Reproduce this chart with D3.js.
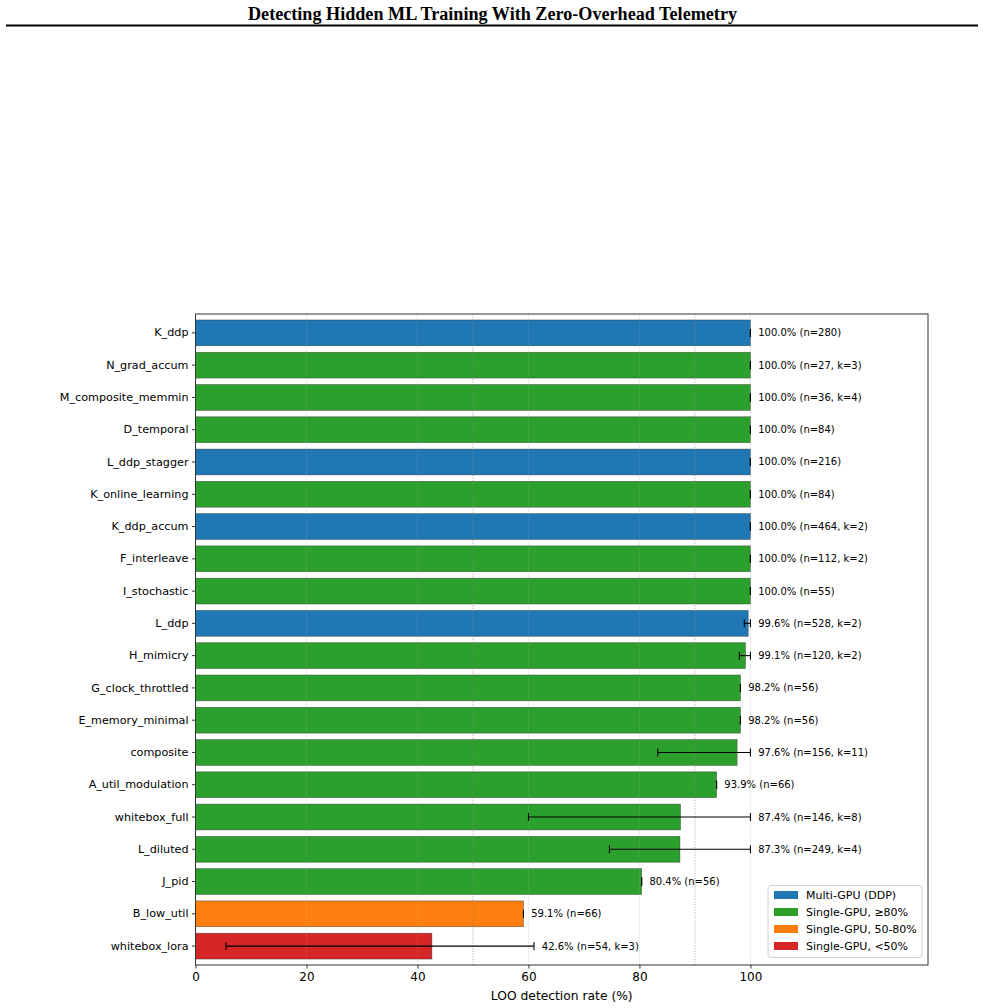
<!DOCTYPE html>
<html>
<head>
<meta charset="utf-8">
<script src="https://cdn.jsdelivr.net/npm/d3@7"></script>
<style>
  html, body { margin: 0; padding: 0; background: #fff; }
  svg { display: block; }
</style>
</head>
<body>
<svg id="chart" width="985" height="1008"></svg>
<script>
// ---- data ----
const categories = ["K_ddp","N_grad_accum","M_composite_memmin","D_temporal","L_ddp_stagger",
  "K_online_learning","K_ddp_accum","F_interleave","I_stochastic","L_ddp","H_mimicry",
  "G_clock_throttled","E_memory_minimal","composite","A_util_modulation","whitebox_full",
  "L_diluted","J_pid","B_low_util","whitebox_lora"];
const rates = [100,100,100,100,100,100,100,100,100,99.6,99.1,98.2,98.2,97.6,93.9,87.4,87.3,80.4,59.1,42.6];
const errLow = [100,100,100,100,100,100,100,100,100,98.9,98.0,98.2,98.2,83.3,93.9,60.0,74.6,80.4,59.1,5.5];
const errHigh = [100,100,100,100,100,100,100,100,100,100,100,98.2,98.2,100,93.9,100,100,80.4,59.1,61.0];
const groups = ["ddp","s80","s80","s80","ddp","s80","ddp","s80","s80","ddp","s80","s80","s80","s80","s80","s80","s80","s80","s50","s0"];
const labels = ["100.0% (n=280)","100.0% (n=27, k=3)","100.0% (n=36, k=4)","100.0% (n=84)","100.0% (n=216)",
  "100.0% (n=84)","100.0% (n=464, k=2)","100.0% (n=112, k=2)","100.0% (n=55)","99.6% (n=528, k=2)",
  "99.1% (n=120, k=2)","98.2% (n=56)","98.2% (n=56)","97.6% (n=156, k=11)","93.9% (n=66)",
  "87.4% (n=146, k=8)","87.3% (n=249, k=4)","80.4% (n=56)","59.1% (n=66)","42.6% (n=54, k=3)"];
const groupKeys = ["ddp","s80","s50","s0"];
const groupNames = ["Multi-GPU (DDP)","Single-GPU, \u226580%","Single-GPU, 50-80%","Single-GPU, <50%"];
const groupColors = ["#1f77b4","#2ca02c","#ff7f0e","#d62728"];
const xTicks = [0,20,40,60,80,100];
const refLines = [50,90];
const title = "Detecting Hidden ML Training With Zero-Overhead Telemetry";
const xLabel = "LOO detection rate (%)";

// ---- layout ----
const svg = d3.select("#chart");
const L = 195.5, R = 928, T = 314, B = 965;
const font = "'DejaVu Sans', sans-serif";

const x = d3.scaleLinear().domain([0,132]).range([L,R]);
const y = d3.scaleBand().domain(categories).range([T,B]).paddingInner(0.2).paddingOuter(0.185);
const color = d3.scaleOrdinal().domain(groupKeys).range(groupColors);

const rows = categories.map((c,i)=>({c, v:rates[i], lo:errLow[i], hi:errHigh[i], g:groups[i], lab:labels[i]}));

// title
svg.append("text").attr("x",492.5).attr("y",20).attr("text-anchor","middle")
  .attr("font-family","'Liberation Serif', 'Times New Roman', serif").attr("font-weight","bold")
  .attr("font-size",18).attr("textLength",489).attr("lengthAdjust","spacingAndGlyphs")
  .attr("fill","#000").text(title);
svg.append("line").attr("x1",6).attr("x2",978).attr("y1",25.5).attr("y2",25.5)
  .attr("stroke","#000").attr("stroke-width",2);

// grid
svg.append("g").selectAll("line").data(xTicks).join("line")
  .attr("x1",d=>x(d)).attr("x2",d=>x(d)).attr("y1",T).attr("y2",B)
  .attr("stroke","#b0b0b0").attr("stroke-opacity",0.3).attr("stroke-width",0.8);

// bars
svg.append("g").selectAll("rect").data(rows).join("rect")
  .attr("x",x(0)).attr("y",d=>y(d.c)).attr("width",d=>x(d.v)-x(0)).attr("height",y.bandwidth())
  .attr("fill",d=>color(d.g))
  .attr("stroke","#333").attr("stroke-opacity",0.7).attr("stroke-width",0.6);

// grid over bars (faint)
svg.append("g").selectAll("line").data(xTicks.slice(1)).join("line")
  .attr("x1",d=>x(d)).attr("x2",d=>x(d)).attr("y1",T).attr("y2",B)
  .attr("stroke","#ffffff").attr("stroke-opacity",0.1).attr("stroke-width",0.8);

// reference dotted lines
svg.append("g").selectAll("line").data(refLines).join("line")
  .attr("x1",d=>x(d)).attr("x2",d=>x(d)).attr("y1",T).attr("y2",B)
  .attr("stroke","#888").attr("stroke-width",0.9).attr("stroke-dasharray","1,1.6").attr("opacity",0.8);

// error bars
const eb = svg.append("g").attr("stroke","#000").attr("stroke-width",1.1);
rows.forEach(d=>{
  const cy = y(d.c) + y.bandwidth()/2;
  eb.append("line").attr("x1",x(d.lo)).attr("x2",x(d.hi)).attr("y1",cy).attr("y2",cy);
  eb.append("line").attr("x1",x(d.lo)).attr("x2",x(d.lo)).attr("y1",cy-4).attr("y2",cy+4);
  eb.append("line").attr("x1",x(d.hi)).attr("x2",x(d.hi)).attr("y1",cy-4).attr("y2",cy+4);
});

// value labels
svg.append("g").selectAll("text").data(rows).join("text")
  .attr("x",d=>x(Math.max(d.v,d.hi)+1.4)).attr("y",d=>y(d.c)+y.bandwidth()/2)
  .attr("dy","0.35em").attr("font-family",font).attr("font-size",10).attr("fill","#000")
  .text(d=>d.lab);

// axes
const xAxis = svg.append("g").attr("transform",`translate(0,${B})`)
  .call(d3.axisBottom(x).tickValues(xTicks).tickSize(3.5).tickPadding(3.5));
xAxis.select(".domain").remove();
xAxis.selectAll("text").attr("font-family",font).attr("font-size",12).attr("fill","#000");
xAxis.selectAll("line").attr("stroke","#000").attr("stroke-width",0.8);

const yAxis = svg.append("g").attr("transform",`translate(${L},0)`)
  .call(d3.axisLeft(y).tickSize(3.5).tickPadding(3.5));
yAxis.select(".domain").remove();
yAxis.selectAll("text").attr("font-family",font).attr("font-size",11.2).attr("fill","#000");
yAxis.selectAll("line").attr("stroke","#000").attr("stroke-width",0.8);

// frame
svg.append("rect").attr("x",L).attr("y",T).attr("width",R-L).attr("height",B-T)
  .attr("fill","none").attr("stroke","#333").attr("stroke-width",1);

// x label
svg.append("text").attr("x",(L+R)/2).attr("y",1000).attr("text-anchor","middle")
  .attr("font-family",font).attr("font-size",12.3).attr("fill","#000").text(xLabel);

// legend
const lg = svg.append("g");
lg.append("rect").attr("x",768).attr("y",885.5).attr("width",154).attr("height",72).attr("rx",3)
  .attr("fill","#fff").attr("fill-opacity",0.85).attr("stroke","#d0d0d0").attr("stroke-width",1);
groupKeys.forEach((k,i)=>{
  const cy = 895 + i*17;
  lg.append("rect").attr("x",774).attr("y",cy-4).attr("width",24).attr("height",8).attr("fill",groupColors[i]);
  lg.append("text").attr("x",806).attr("y",cy).attr("dy","0.35em")
    .attr("font-family",font).attr("font-size",11).attr("fill","#000").text(groupNames[i]);
});
</script>
</body>
</html>
